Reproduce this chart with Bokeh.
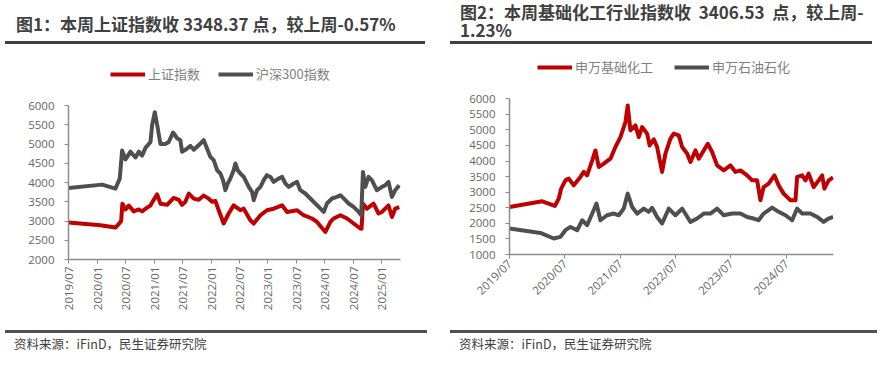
import math
import pandas as pd
from bokeh.plotting import figure
from bokeh.layouts import row, column
from bokeh.models import (Range1d, FixedTicker, DatetimeTickFormatter, Legend,
                          LegendItem, ColumnDataSource, Div)
from bokeh.embed import file_html
from bokeh.resources import INLINE

CJK = "Noto Sans CJK SC"
RED = "#C00000"
GRAY = "#4F4F4F"

# ---------------- data: chart 1 ----------------
title1 = ["图1：本周上证指数收 3348.37 点，较上周-0.57%"]
names1 = ["上证指数", "沪深300指数"]

sse_dates = ["2019-07-01", "2020-01-22", "2020-04-27", "2020-05-25", "2020-06-03", "2020-06-11",
             "2020-07-01", "2020-07-22", "2020-08-23", "2020-09-24", "2020-10-16", "2020-11-17",
             "2020-12-08", "2020-12-29", "2021-01-20", "2021-02-10", "2021-03-25", "2021-05-06",
             "2021-06-08", "2021-06-29", "2021-07-20", "2021-08-11", "2021-09-12", "2021-10-14",
             "2021-11-15", "2021-12-17", "2022-01-08", "2022-01-29", "2022-02-19", "2022-03-23",
             "2022-04-24", "2022-05-26", "2022-07-08", "2022-07-30", "2022-09-10", "2022-10-02",
             "2022-11-14", "2022-12-26", "2023-02-07", "2023-04-02", "2023-05-04", "2023-07-07",
             "2023-08-18", "2023-10-11", "2023-11-12", "2024-01-05", "2024-02-06", "2024-02-27",
             "2024-04-10", "2024-05-23", "2024-07-04", "2024-08-16", "2024-08-24", "2024-09-02",
             "2024-09-28", "2024-11-09", "2024-12-11", "2025-01-02", "2025-02-13", "2025-03-07",
             "2025-03-28", "2025-04-23"]
sse_vals = [2960, 2890, 2830, 2950, 3000, 3450,
            3300, 3400, 3250, 3300, 3250, 3350,
            3400, 3550, 3690, 3450, 3420, 3600,
            3550, 3420, 3500, 3710, 3580, 3550,
            3660, 3580, 3500, 3520, 3280, 2935,
            3195, 3405, 3280, 3320, 3020, 2935,
            3150, 3280, 3320, 3405, 3235, 3280,
            3150, 3065, 2975, 2715, 2975, 3065,
            3150, 3065, 2935, 2805, 2800, 3450,
            3320, 3450, 3195, 3235, 3405, 3105,
            3320, 3360]

hs_dates = ["2019-07-01", "2020-02-02", "2020-04-27", "2020-05-25", "2020-06-09", "2020-07-01",
            "2020-08-02", "2020-09-03", "2020-09-24", "2020-10-16", "2020-11-06", "2020-11-27",
            "2020-12-08", "2020-12-19", "2021-01-05", "2021-01-20", "2021-02-10", "2021-03-14",
            "2021-04-04", "2021-05-02", "2021-05-28", "2021-06-18", "2021-06-29", "2021-07-20",
            "2021-08-22", "2021-09-12", "2021-10-25", "2021-11-15", "2021-12-28", "2022-01-18",
            "2022-02-09", "2022-03-02", "2022-03-19", "2022-04-03", "2022-04-18", "2022-05-05",
            "2022-05-26", "2022-06-06", "2022-06-21", "2022-07-08", "2022-07-30", "2022-08-31",
            "2022-09-21", "2022-10-02", "2022-10-23", "2022-11-14", "2022-12-05", "2022-12-26",
            "2023-01-17", "2023-02-07", "2023-03-11", "2023-04-02", "2023-04-23", "2023-05-15",
            "2023-06-16", "2023-07-07", "2023-07-28", "2023-08-29", "2023-10-11", "2023-11-23",
            "2023-12-25", "2024-01-15", "2024-02-16", "2024-03-19", "2024-04-10", "2024-05-12",
            "2024-06-02", "2024-07-04", "2024-08-05", "2024-08-22", "2024-09-02", "2024-09-17",
            "2024-10-08", "2024-10-29", "2024-11-30", "2025-01-02", "2025-01-23", "2025-02-13",
            "2025-03-07", "2025-03-28", "2025-04-23"]
hs_vals = [3860, 3945, 3840, 4100, 4830, 4600,
           4800, 4650, 4800, 4700, 4900, 5000,
           5050, 5500, 5825, 5500, 5000, 5000,
           5050, 5300, 5150, 5100, 4800, 4850,
           4950, 4850, 5013, 5099, 4665, 4579,
           4319, 4234, 4060, 3800, 3974, 4104,
           4319, 4494, 4319, 4234, 4145, 3886,
           3756, 3540, 3800, 3886, 4060, 4190,
           4145, 4016, 4104, 4145, 3974, 3886,
           3974, 4016, 3800, 3714, 3540, 3366,
           3236, 3455, 3584, 3626, 3670, 3540,
           3455, 3366, 3236, 3150, 4275, 3886,
           4145, 4060, 3800, 3886, 3930, 4016,
           3626, 3800, 3930]

xticks1 = ["2019/07", "2020/01", "2020/07", "2021/01", "2021/07", "2022/01", "2022/07",
           "2023/01", "2023/07", "2024/01", "2024/07", "2025/01"]
yticks1 = [2000, 2500, 3000, 3500, 4000, 4500, 5000, 5500, 6000]

# ---------------- data: chart 2 ----------------
title2 = ["图2：本周基础化工行业指数收&nbsp; 3406.53&nbsp; 点，较上周-", "1.23%"]
names2 = ["申万基础化工", "申万石油石化"]

chem_dates = ["2019-07-01", "2020-02-02", "2020-04-25", "2020-05-21", "2020-06-06", "2020-07-04",
              "2020-07-26", "2020-08-28", "2020-10-11", "2020-11-02", "2020-11-24", "2020-12-28",
              "2021-01-18", "2021-02-09", "2021-03-14", "2021-04-27", "2021-05-30", "2021-07-02",
              "2021-08-04", "2021-08-19", "2021-09-06", "2021-10-09", "2021-10-31", "2021-11-22",
              "2021-12-25", "2022-01-11", "2022-02-07", "2022-03-01", "2022-04-03", "2022-04-25",
              "2022-05-28", "2022-06-19", "2022-07-22", "2022-08-13", "2022-09-15", "2022-10-07",
              "2022-11-09", "2022-12-01", "2023-01-03", "2023-01-29", "2023-02-27", "2023-04-01",
              "2023-05-15", "2023-06-28", "2023-07-31", "2023-09-02", "2023-10-16", "2023-11-18",
              "2023-12-21", "2024-01-12", "2024-02-02", "2024-03-06", "2024-04-13", "2024-05-11",
              "2024-06-13", "2024-07-28", "2024-08-30", "2024-09-10", "2024-10-13", "2024-11-04",
              "2024-11-25", "2024-12-28", "2025-01-30", "2025-02-22", "2025-03-09", "2025-04-06",
              "2025-05-05"]
chem_vals = [2526, 2708, 2558, 2795, 3115, 3380,
             3435, 3220, 3490, 3650, 3540, 4020,
             4340, 3810, 3915, 4075, 4450, 4770,
             5250, 5785, 4985, 5145, 4770, 5090,
             4880, 4500, 4700, 4450, 3650, 4240,
             4720, 4880, 4825, 4450, 4240, 3970,
             4340, 4075, 4340, 4555, 4290, 3860,
             3700, 3860, 3650, 3700, 3540, 3380,
             3380, 2740, 3165, 3275, 3540, 3220,
             2955, 2740, 2740, 3490, 3540, 3380,
             3595, 3165, 3380, 3540, 3115, 3380,
             3470]

oil_dates = ["2019-07-01", "2020-01-21", "2020-04-18", "2020-06-01", "2020-07-04", "2020-08-06",
             "2020-09-20", "2020-10-23", "2020-11-24", "2020-12-28", "2021-01-25", "2021-02-20",
             "2021-04-05", "2021-05-19", "2021-06-21", "2021-07-24", "2021-08-19", "2021-09-17",
             "2021-10-20", "2021-12-03", "2022-01-05", "2022-01-27", "2022-03-01", "2022-04-03",
             "2022-05-17", "2022-06-30", "2022-08-13", "2022-10-07", "2022-11-20", "2023-01-03",
             "2023-02-16", "2023-04-01", "2023-05-15", "2023-07-09", "2023-09-02", "2023-10-16",
             "2023-11-28", "2023-12-31", "2024-02-02", "2024-03-29", "2024-05-11", "2024-06-25",
             "2024-08-08", "2024-09-10", "2024-10-13", "2024-12-07", "2025-01-20", "2025-03-04",
             "2025-04-06", "2025-05-05"]
oil_vals = [1833, 1693, 1513, 1565, 1780, 1885,
            1780, 2100, 1940, 2315, 2635, 2100,
            2260, 2315, 2260, 2475, 2955, 2525,
            2315, 2475, 2370, 2500, 2205, 1995,
            2475, 2260, 2475, 2045, 2155, 2315,
            2315, 2475, 2260, 2315, 2315, 2205,
            2155, 2100, 2315, 2505, 2370, 2260,
            2100, 2475, 2315, 2315, 2205, 2045,
            2155, 2205]

xticks2 = ["2019/07", "2020/07", "2021/07", "2022/07", "2023/07", "2024/07"]
yticks2 = [1000, 1500, 2000, 2500, 3000, 3500, 4000, 4500, 5000, 5500, 6000]

source_text = "资料来源：iFinD，民生证券研究院"


def tick_ms(lbl):
    return pd.Timestamp(lbl.replace("/", "-") + "-01").value / 1e6


FONT_CSS = "font-family:'Noto Sans CJK SC',sans-serif;"


def header(w, h, lines, tx, tys, lh, ux, uy, uw):
    parts = [f'<div style="position:relative;width:{w}px;height:{h}px;overflow:hidden;">']
    for line, ty in zip(lines, tys):
        parts.append(f'<div style="position:absolute;left:{tx}px;top:{ty}px;white-space:nowrap;'
                     f'{FONT_CSS}font-weight:bold;font-size:17px;line-height:{lh}px;'
                     f'color:#404040;">{line}</div>')
    parts.append(f'<div style="position:absolute;left:{ux}px;top:{uy}px;width:{uw}px;'
                 f'height:3px;background:#404040;"></div></div>')
    return Div(text="".join(parts), width=w, height=h, margin=0)


def footer(w, h, tx, ty, ux, uy, uw):
    html = (f'<div style="position:relative;width:{w}px;height:{h}px;overflow:hidden;">'
            f'<div style="position:absolute;left:{ux}px;top:{uy}px;width:{uw}px;'
            f'height:3px;background:#505050;"></div>'
            f'<div style="position:absolute;left:{tx}px;top:{ty}px;white-space:nowrap;'
            f'{FONT_CSS}font-size:12.5px;line-height:14px;color:#404040;">{source_text}</div>'
            f'</div>')
    return Div(text=html, width=w, height=h, margin=0)


def chart(w, h, mb, x_end, y_range, ybounds, xticks, yticks, series, names, orient,
          leg_loc, leg_spacing):
    p = figure(width=w, height=h, x_axis_type="datetime",
               x_range=Range1d(pd.Timestamp("2019-07-01"), pd.Timestamp(x_end)),
               y_range=Range1d(*y_range), toolbar_location=None, output_backend="svg",
               min_border_left=mb[0], min_border_right=mb[1], min_border_top=mb[2],
               min_border_bottom=mb[3], outline_line_color=None)
    p.grid.visible = False
    rs = []
    for (d, v, c) in series:
        src = ColumnDataSource(dict(x=pd.to_datetime(d), y=v))
        rs.append(p.line("x", "y", source=src, line_color=c, line_width=4,
                         line_join="round"))
    leg = Legend(items=[LegendItem(label=n, renderers=[r]) for n, r in zip(names, rs)],
                 location=leg_loc, orientation="horizontal", padding=0, margin=0,
                 spacing=leg_spacing, glyph_width=35, glyph_height=14, label_height=14,
                 label_standoff=3, label_text_font=CJK, label_text_font_size="13px",
                 label_text_color="#7f7f7f", border_line_color=None,
                 background_fill_alpha=0)
    p.add_layout(leg)
    fmt = "%Y/%m"
    p.xaxis.ticker = FixedTicker(ticks=[tick_ms(t) for t in xticks])
    p.xaxis.formatter = DatetimeTickFormatter(years=fmt, months=fmt, days=fmt, hours=fmt,
                                              hourmin=fmt, minutes=fmt)
    p.xaxis.major_label_orientation = orient
    p.yaxis.ticker = FixedTicker(ticks=yticks)
    p.yaxis.bounds = ybounds
    for ax in (p.xaxis[0], p.yaxis[0]):
        ax.axis_line_color = "#8c8c8c"
        ax.axis_line_width = 1.5
        ax.major_tick_line_color = "#8c8c8c"
        ax.major_tick_out = 4
        ax.major_tick_in = 0
        ax.minor_tick_out = 0
        ax.minor_tick_in = 0
        ax.major_label_text_font = "Open Sans"
        ax.major_label_text_font_size = "11.5px"
        ax.major_label_text_color = "#666666"
    p.xaxis.major_label_standoff = 3
    p.yaxis.major_label_standoff = 10
    return p


# ---------- left panel (x 0..440) ----------
h1 = header(440, 50, title1, 16, [15], 18, 5, 41, 420)
c1 = chart(440, 275, (68, 40, 8, 66), "2025-05-01", (2000, 7221), (2000, 6000),
           xticks1, yticks1, [(sse_dates, sse_vals, RED), (hs_dates, hs_vals, GRAY)],
           names1, math.pi / 2, (42, 176), 18)
f1 = footer(440, 41, 14, 12, 5, 5, 422)

# ---------- right panel (x 440..884) ----------
h2 = header(444, 45, title2, 20, [3, 21], 18, 10, 41, 422)
c2 = chart(444, 275, (69, 51, 8, 66), "2025-05-08", (1000, 7452), (1000, 6000),
           xticks2, yticks2, [(chem_dates, chem_vals, RED), (oil_dates, oil_vals, GRAY)],
           names2, math.pi / 4, (28, 178), 21)
f2 = footer(444, 46, 19, 17, 10, 10, 427)

layout = row(column(h1, c1, f1, spacing=0), column(h2, c2, f2, spacing=0), spacing=0)

open("out.html", "w").write(file_html(layout, INLINE))
